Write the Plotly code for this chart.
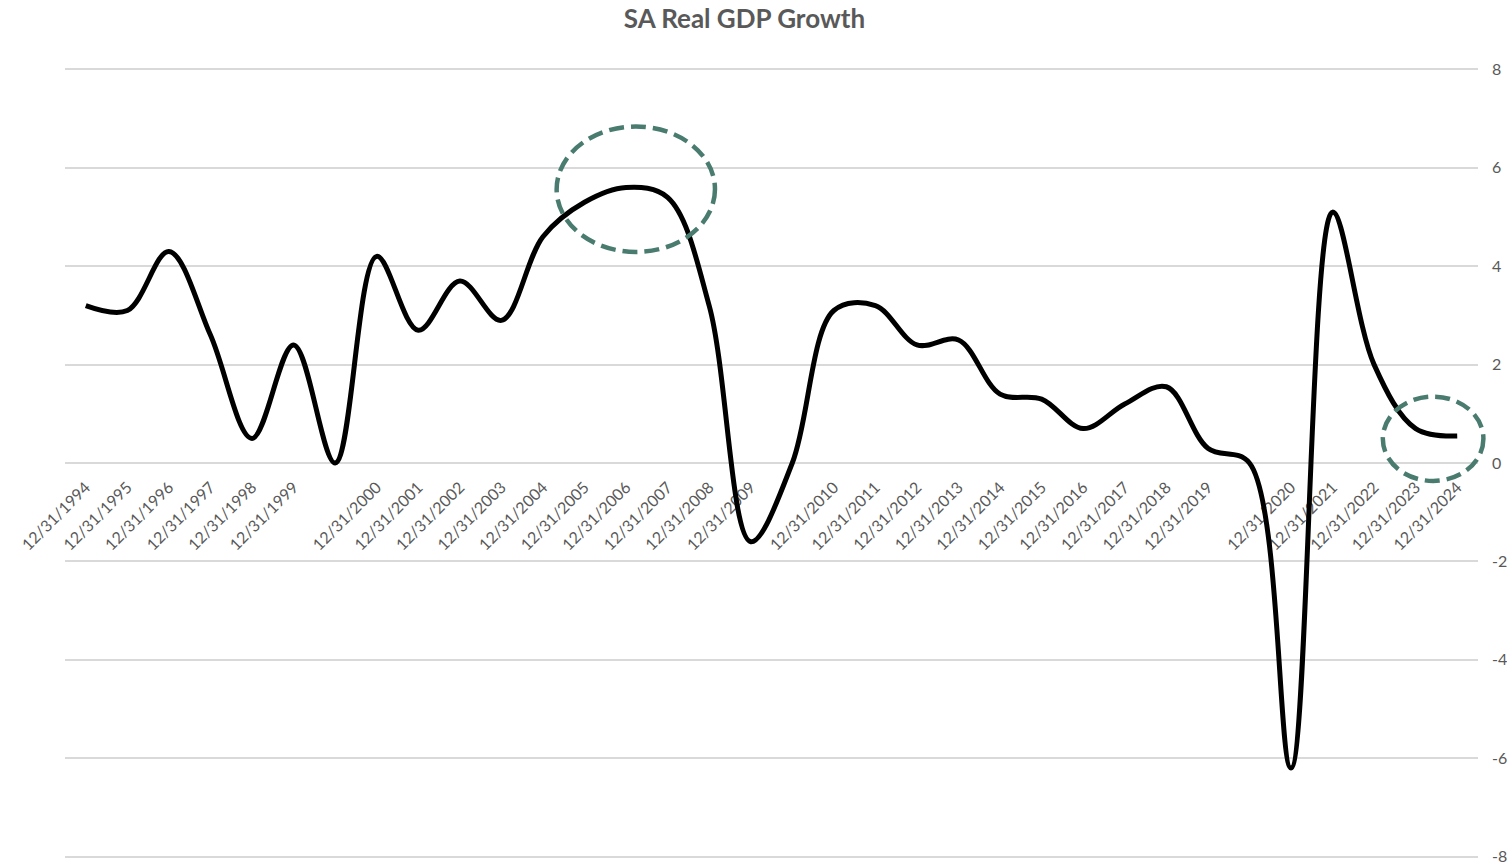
import plotly.graph_objects as go

# Annual real GDP growth (%), one slot per year-end; blank slots hold 0
period_labels = [
    "12/31/1994", "12/31/1995", "12/31/1996", "12/31/1997", "12/31/1998", "12/31/1999",
    "",
    "12/31/2000", "12/31/2001", "12/31/2002", "12/31/2003", "12/31/2004",
    "12/31/2005", "12/31/2006", "12/31/2007", "12/31/2008", "12/31/2009",
    "",
    "12/31/2010", "12/31/2011", "12/31/2012", "12/31/2013", "12/31/2014",
    "12/31/2015", "12/31/2016", "12/31/2017", "12/31/2018", "12/31/2019",
    "",
    "12/31/2020", "12/31/2021", "12/31/2022", "12/31/2023", "12/31/2024",
]
gdp_growth = [
    3.2, 3.1, 4.3, 2.6, 0.5, 2.4,
    0.0,
    4.2, 2.7, 3.7, 2.9, 4.6, 5.3, 5.6, 5.4, 3.2, -1.6,
    0.0,
    3.1, 3.2, 2.4, 2.5, 1.4, 1.3, 0.7, 1.2, 1.55, 0.3,
    0.0,
    -6.2, 5.1, 2.0, 0.7, 0.55,
]
y_ticks = [-8, -6, -4, -2, 0, 2, 4, 6, 8]
y_tick_text = ["-8", "-6", "-4", "-2", "0", "2", "4", "6", "8"]

slots = list(range(len(period_labels)))
x_range = [-0.5, len(period_labels) - 0.5]
y_range = [-8.03, 8.03]

# Highlight rings, given in data units: (x0, x1, y0, y1)
highlights = [
    (11.33, 15.14, 4.29, 6.84),
    (31.21, 33.63, -0.365, 1.35),
]

TEXT = "#595959"
GRID = "#d9d9d9"
RING = "#497b6f"
FONT = "Lato"


def to_paper(v, rng):
    return (v - rng[0]) / (rng[1] - rng[0])


fig = go.Figure()
fig.add_trace(go.Scatter(
    x=slots,
    y=gdp_growth,
    mode="lines",
    line=dict(color="#000000", width=5, shape="spline", smoothing=1.0),
    hoverinfo="skip",
    showlegend=False,
))

for x0, x1, y0, y1 in highlights:
    fig.add_shape(
        type="circle",
        xref="paper", yref="paper",
        x0=to_paper(x0, x_range), x1=to_paper(x1, x_range),
        y0=to_paper(y0, y_range), y1=to_paper(y1, y_range),
        line=dict(color=RING, width=4.5, dash="15px,7px"),
        layer="above",
    )

tick_vals = [s for s, lab in zip(slots, period_labels) if lab]
tick_text = [lab for lab in period_labels if lab]

fig.update_layout(
    width=1507,
    height=867,
    margin=dict(l=65, r=29, t=68, b=9, autoexpand=False),
    paper_bgcolor="#ffffff",
    plot_bgcolor="#ffffff",
    title=dict(
        text="<b>SA Real GDP Growth</b>",
        x=0.494, xref="container", xanchor="center",
        y=1 - 19 / 867, yref="container", yanchor="middle",
        font=dict(family=FONT, size=26, color=TEXT),
    ),
    xaxis=dict(
        range=x_range,
        tickmode="array",
        tickvals=tick_vals,
        ticktext=tick_text,
        tickangle=-45,
        tickfont=dict(family=FONT, size=16, color=TEXT),
        showgrid=False,
        zeroline=False,
        showline=False,
        ticks="",
        ticklabelstandoff=11,
        anchor="free",
        position=to_paper(0, y_range),
        layer="below traces",
        automargin=False,
        fixedrange=True,
    ),
    yaxis=dict(
        range=y_range,
        tickmode="array",
        tickvals=y_ticks,
        ticktext=y_tick_text,
        side="right",
        tickfont=dict(family=FONT, size=16, color=TEXT),
        showgrid=True,
        gridcolor=GRID,
        gridwidth=2,
        zeroline=False,
        showline=False,
        ticks="",
        ticklabelstandoff=13,
        automargin=False,
        fixedrange=True,
    ),
)

fig.write_html("out.html")
